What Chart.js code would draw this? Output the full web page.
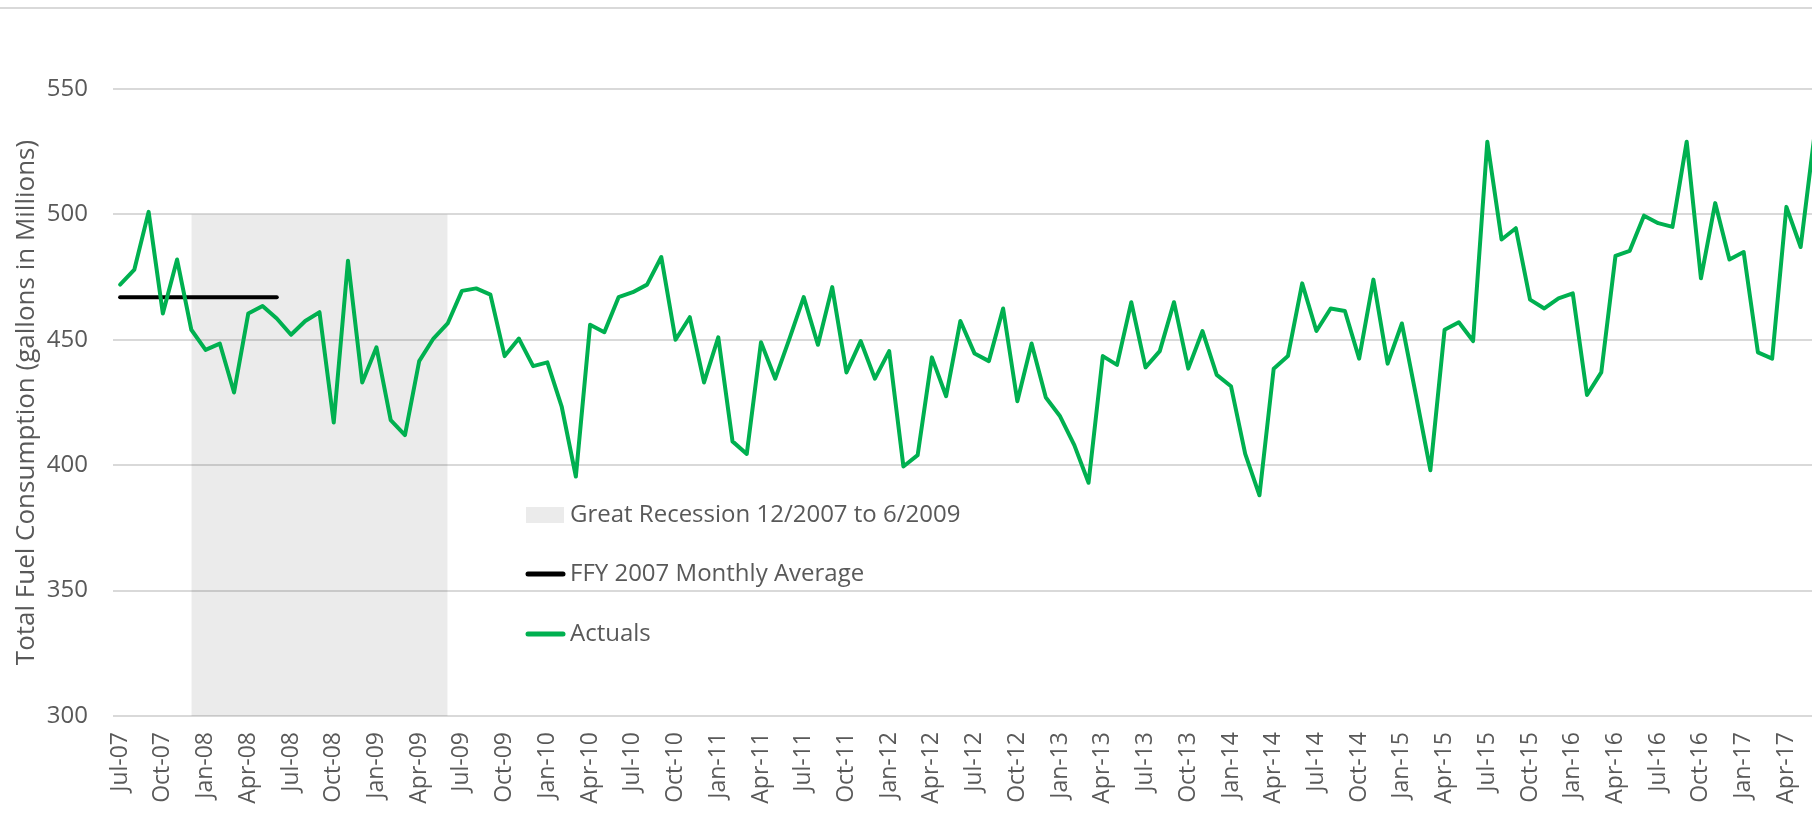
<!DOCTYPE html>
<html>
<head>
<meta charset="utf-8">
<title>Total Fuel Consumption</title>
<script src="https://cdn.jsdelivr.net/npm/chart.js@4.4.1/dist/chart.umd.min.js"></script>
<style>
  html, body { margin: 0; padding: 0; background: #fff; overflow: hidden; }
  #wrap { width: 1822px; height: 832px; }
</style>
</head>
<body>
<div id="wrap"><canvas id="fuelChart" width="1822" height="832"></canvas></div>
<script>

// monthly categories Jul-07 .. Jun-17
const monthNames = ['Jan', 'Feb', 'Mar', 'Apr', 'May', 'Jun', 'Jul', 'Aug', 'Sep', 'Oct', 'Nov', 'Dec'];
const categories = [];
for (let i = 0; i < 120; i++) {
    const m = (6 + i) % 12;
    const yr = 7 + Math.floor((6 + i) / 12);
    categories.push(monthNames[m] + '-' + String(yr).padStart(2, '0'));
}

// total fuel consumption, gallons in millions
const actuals = [
    472, 478, 501, 460.5, 482, 454, 446, 448.5, 429, 460.5, 463.5, 458.5,
    452, 457.5, 461, 417, 481.5, 433, 447, 418, 412, 441.5, 450.5, 456.5,
    469.5, 470.5, 468, 443.5, 450.5, 439.5, 441, 423.5, 395.5, 456, 453, 467,
    469, 472, 483, 450, 459, 433, 451, 409.5, 404.5, 449, 434.5, 450.5,
    467, 448, 471, 437, 449.5, 434.5, 445.5, 399.5, 404, 443, 427.5, 457.5,
    444.5, 441.5, 462.5, 425.5, 448.5, 427, 419.5, 408, 393, 443.5, 440, 465,
    439, 445.5, 465, 438.5, 453.5, 436, 431.5, 404.5, 388, 438.5, 443.5, 472.5,
    453.5, 462.5, 461.5, 442.5, 474, 440.5, 456.5, 427.5, 398, 454, 457, 449.5,
    529, 490, 494.5, 466, 462.5, 466.5, 468.5, 428, 437, 483.5, 485.5, 499.5,
    496.5, 495, 529, 474.5, 504.5, 482, 485, 445, 442.5, 503, 487, 533
];

// FFY 2007 monthly average, drawn over the first year
const ffyAverage = 467;
const ffyFrom = 'Jul-07';
const ffyTo = 'Jun-08';

// Great Recession band
const recessionTop = 500;
const recessionFrom = 'Dec-07';
const recessionTo = 'Jun-09';

const yTicks = [300, 350, 400, 450, 500, 550];

const inRange = (from, to, value) => {
    const a = categories.indexOf(from);
    const b = categories.indexOf(to);
    return categories.map((c, i) => (i >= a && i <= b ? value : null));
};

const textGrey = '#595959';
const gridGrey = '#d9d9d9';

const sideLegend = {
    id: 'sideLegend',
    afterDraw(chart) {
        const ctx = chart.ctx;
        const rows = [515, 574, 634];
        ctx.save();
        ctx.font = '24px "Open Sans"';
        ctx.textBaseline = 'middle';
        ctx.fillStyle = textGrey;
        chart.data.datasets.forEach((ds, i) => {
            const y = rows[i];
            if (ds.legendKind === 'box') {
                ctx.fillStyle = '#ebebeb';
                ctx.fillRect(526, y - 8, 38, 16);
            } else {
                ctx.strokeStyle = ds.borderColor;
                ctx.lineWidth = 5;
                ctx.lineCap = 'round';
                ctx.beginPath();
                ctx.moveTo(528, y);
                ctx.lineTo(563, y);
                ctx.stroke();
            }
            ctx.fillStyle = textGrey;
            ctx.fillText(ds.label, 570, y);
        });
        ctx.restore();
    }
};

const topRule = {
    id: 'topRule',
    beforeDraw(chart) {
        const ctx = chart.ctx;
        ctx.save();
        ctx.fillStyle = gridGrey;
        ctx.fillRect(0, 7, chart.width, 2);
        ctx.restore();
    }
};

const fuelCTX = document.getElementById('fuelChart');

const fuelData = {
    labels: categories,
    datasets: [
        {
            label: 'Great Recession 12/2007 to 6/2009',
            legendKind: 'box',
            data: inRange(recessionFrom, recessionTo, recessionTop),
            borderWidth: 0,
            borderColor: 'rgba(0,0,0,0)',
            backgroundColor: 'rgba(0,0,0,0.08)',
            fill: 'start',
            pointRadius: 0,
            spanGaps: false,
            order: 2
        },
        {
            label: 'FFY 2007 Monthly Average',
            legendKind: 'line',
            data: inRange(ffyFrom, ffyTo, ffyAverage),
            borderColor: '#000000',
            borderWidth: 4,
            borderCapStyle: 'round',
            pointRadius: 0,
            fill: false,
            order: 1
        },
        {
            label: 'Actuals',
            legendKind: 'line',
            data: actuals,
            borderColor: '#00b050',
            borderWidth: 4,
            borderJoinStyle: 'round',
            borderCapStyle: 'round',
            pointRadius: 0,
            tension: 0,
            fill: false,
            order: 0
        }
    ]
};

const fuelChart = new Chart(fuelCTX, {
    type: 'line',
    data: fuelData,
    plugins: [topRule, sideLegend],
    options: {
        responsive: false,
        animation: false,
        devicePixelRatio: 1,
        layout: { padding: { top: 89, right: 0, left: 0, bottom: 0 } },
        plugins: {
            legend: { display: false },
            tooltip: { enabled: false }
        },
        scales: {
            x: {
                type: 'category',
                offset: true,
                grid: { display: false, drawTicks: false },
                border: { display: false },
                ticks: {
                    autoSkip: false,
                    minRotation: 90,
                    maxRotation: 90,
                    padding: 16,
                    color: textGrey,
                    font: { family: '"Open Sans"', size: 23 },
                    callback: function (value, index) {
                        return index % 3 === 0 ? categories[index] : '';
                    }
                },
                afterFit: (scale) => {
                    scale.height = 116;
                    scale.paddingLeft = 0;
                    scale.paddingRight = 0;
                }
            },
            y: {
                min: 300,
                max: 550,
                afterBuildTicks: (scale) => { scale.ticks = yTicks.map(v => ({ value: v })); },
                grid: { color: gridGrey, lineWidth: 2, drawTicks: false },
                border: { display: false },
                ticks: {
                    padding: 25,
                    color: textGrey,
                    font: { family: '"Open Sans"', size: 24 }
                },
                title: {
                    display: true,
                    text: 'Total Fuel Consumption (gallons in Millions)',
                    color: textGrey,
                    font: { family: '"Open Sans"', size: 26 },
                    padding: { top: 11, bottom: 0 }
                },
                afterFit: (scale) => {
                    scale.width = 113;
                    scale.paddingTop = 0;
                    scale.paddingBottom = 0;
                }
            }
        }
    }
});
</script>
</body>
</html>
